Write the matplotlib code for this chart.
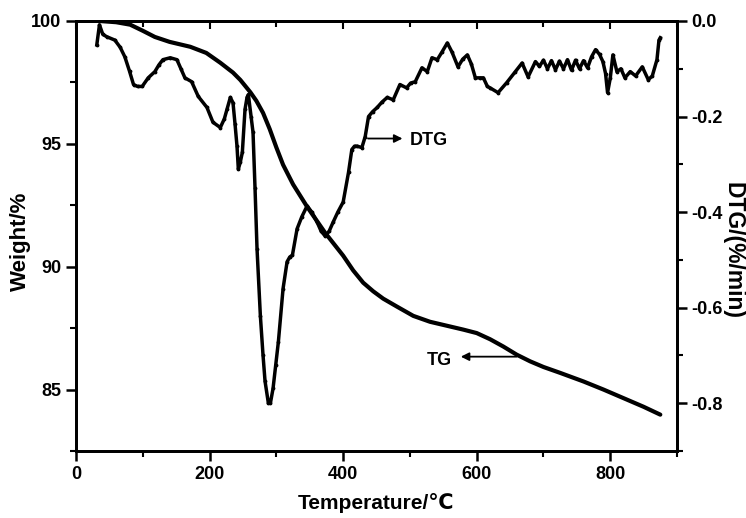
import matplotlib
matplotlib.use("Agg")
import matplotlib.pyplot as plt
from matplotlib.ticker import MultipleLocator, FormatStrFormatter

plt.rcParams['font.family'] = ['Liberation Sans', 'DejaVu Sans']
plt.rcParams['font.weight'] = 'bold'

# TG curve: temperature (C) vs weight (%)
tg_temp = [35, 60, 81, 100, 118, 140, 171, 195, 216, 235, 246, 261, 270, 280, 290, 300,
           310, 325, 346, 373, 400, 415, 430, 445, 460, 481, 505, 530, 555, 580, 600, 620,
           640, 660, 680, 700, 725, 760, 790, 820, 850, 875]
tg_weight = [100.0, 99.95, 99.85, 99.6, 99.35, 99.15, 98.95, 98.7, 98.3, 97.9, 97.6, 97.1,
             96.75, 96.26, 95.6, 94.85, 94.15, 93.35, 92.44, 91.38, 90.45, 89.85, 89.35,
             89.0, 88.7, 88.37, 88.0, 87.76, 87.6, 87.44, 87.3, 87.05, 86.75, 86.42, 86.15,
             85.92, 85.68, 85.33, 85.0, 84.65, 84.3, 83.98]

# DTG curve: temperature (C) vs rate (%/min)
dtg_temp = [31, 35, 40, 46, 58, 66, 73, 80, 86, 92, 99, 108, 118, 124, 130, 141, 151, 157,
            163, 173, 183, 196, 205, 216, 222, 226, 231, 235, 238, 241, 243, 246, 249, 253,
            256, 258, 262, 265, 268, 271, 276, 280, 283, 288, 291, 295, 299, 303, 310, 316,
            320, 324, 331, 338, 346, 353, 361, 367, 373, 379, 385, 392, 400, 408, 413, 417,
            421, 428, 433, 438, 444, 451, 458, 466, 475, 485, 495, 501, 508, 518, 526, 533,
            541, 548, 556, 563, 572, 579, 586, 592, 598, 605, 610, 616, 620, 632, 645, 658,
            668, 677, 688, 694, 700, 706, 712, 718, 724, 730, 736, 742, 748, 754, 760, 766,
            772, 778, 784, 789, 793, 796, 800, 804, 810, 816, 822, 830, 838, 848, 857, 863,
            870, 873, 875]
dtg_rate = [-0.05, -0.008, -0.028, -0.033, -0.04, -0.055, -0.075, -0.105, -0.133, -0.137,
            -0.137, -0.119, -0.106, -0.092, -0.081, -0.077, -0.081, -0.1, -0.119, -0.127,
            -0.158, -0.181, -0.212, -0.223, -0.205, -0.185, -0.16, -0.171, -0.215, -0.262,
            -0.31, -0.295, -0.275, -0.185, -0.16, -0.154, -0.2, -0.233, -0.35, -0.477, -0.617,
            -0.7, -0.754, -0.8, -0.8, -0.769, -0.72, -0.671, -0.56, -0.504, -0.494, -0.49,
            -0.435, -0.41, -0.387, -0.4, -0.421, -0.44, -0.45, -0.44, -0.421, -0.4, -0.379,
            -0.317, -0.269, -0.262, -0.262, -0.265, -0.242, -0.2, -0.19, -0.181, -0.17, -0.16,
            -0.165, -0.133, -0.14, -0.13, -0.127, -0.098, -0.106, -0.077, -0.081, -0.065,
            -0.046, -0.065, -0.096, -0.08, -0.071, -0.09, -0.119, -0.119, -0.119, -0.137,
            -0.14, -0.15, -0.129, -0.106, -0.088, -0.117, -0.085, -0.095, -0.082, -0.1,
            -0.083, -0.102, -0.084, -0.1, -0.081, -0.103, -0.082, -0.1, -0.083, -0.098,
            -0.075, -0.06, -0.07, -0.085, -0.11, -0.15, -0.12, -0.071, -0.106, -0.1, -0.119,
            -0.106, -0.115, -0.096, -0.123, -0.115, -0.081, -0.04, -0.035]

fig = plt.figure(figsize=(7.46, 5.18), dpi=100)
ax = fig.add_axes([0.102, 0.1293, 0.8055, 0.8302])
ax2 = ax.twinx()

ax.plot(tg_temp, tg_weight, color='black', lw=3.0, solid_capstyle='round')
ax2.plot(dtg_temp, dtg_rate, color='black', lw=2.5, marker='.', ms=3.5)

ax.set_xlim(0, 900)
ax.set_ylim(82.5, 100)
ax2.set_ylim(-0.9, 0.0)

ax.xaxis.set_major_locator(MultipleLocator(200))
ax.xaxis.set_minor_locator(MultipleLocator(100))
ax.yaxis.set_major_locator(MultipleLocator(5))
ax.yaxis.set_minor_locator(MultipleLocator(2.5))
ax2.yaxis.set_major_locator(MultipleLocator(0.2))
ax2.yaxis.set_minor_locator(MultipleLocator(0.1))
ax2.yaxis.set_major_formatter(FormatStrFormatter('%.1f'))

ax.tick_params(which='major', direction='out', length=7, width=1.8, labelsize=13)
ax.tick_params(which='minor', direction='out', length=4, width=1.5)
ax2.tick_params(which='major', direction='out', length=7, width=1.8, labelsize=13)
ax2.tick_params(which='minor', direction='out', length=4, width=1.5)

top = ax.secondary_xaxis('top')
top.xaxis.set_major_locator(MultipleLocator(200))
top.xaxis.set_minor_locator(MultipleLocator(100))
top.tick_params(which='major', direction='in', length=6, width=1.5, labeltop=False)
top.tick_params(which='minor', direction='in', length=4, width=1.5)
top.spines['top'].set_linewidth(2)

for sp in ax.spines.values():
    sp.set_linewidth(2)
for sp in ax2.spines.values():
    sp.set_linewidth(2)

ax.set_xlabel('Temperature/℃', fontsize=15, fontweight='bold', va='center', ha='center')
ax.xaxis.set_label_coords(0.499, -0.121)
ax.set_ylabel('Weight/%', fontsize=16, fontweight='bold', va='center', ha='center')
ax.yaxis.set_label_coords(-0.093, 0.488)
ax2.set_ylabel('DTG/(%/min)', fontsize=16.5, fontweight='bold', rotation=270,
               va='center', ha='center')
ax2.yaxis.set_label_coords(1.093, 0.467)

# curve labels with pointer arrows
ax2.annotate('', xy=(493, -0.246), xytext=(433, -0.246),
             arrowprops=dict(arrowstyle='-|>', color='black', lw=1.3, mutation_scale=12))
ax2.text(500, -0.25, 'DTG', fontsize=13, fontweight='bold', va='center', ha='left')
ax.annotate('', xy=(572, 86.34), xytext=(664, 86.34),
            arrowprops=dict(arrowstyle='-|>', color='black', lw=1.3, mutation_scale=12))
ax.text(563, 86.2, 'TG', fontsize=13, fontweight='bold', va='center', ha='right')

fig.savefig('out.png', dpi=100)
